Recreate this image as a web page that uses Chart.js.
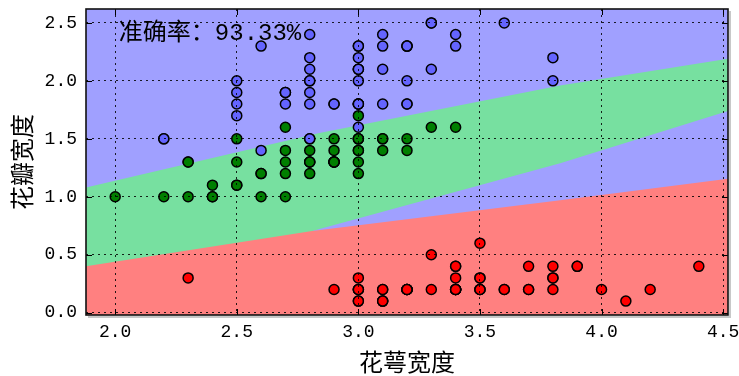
<!DOCTYPE html>
<html>
<head>
<meta charset="utf-8">
<script src="https://cdn.jsdelivr.net/npm/chart.js@4.4.1/dist/chart.umd.min.js"></script>
<style>
  html, body { margin: 0; padding: 0; background: #fff; }
</style>
</head>
<body>
<canvas id="myChart" width="739" height="376"></canvas>
<script>
// 鸢尾花数据: 花萼宽度 (x) / 花瓣宽度 (y)
const setosaX = [3.5,3.0,3.2,3.1,3.6,3.9,3.4,3.4,2.9,3.1,3.7,3.4,3.0,3.0,4.0,4.4,3.9,3.5,3.8,3.8,3.4,3.7,3.6,3.3,3.4,3.0,3.4,3.5,3.4,3.2,3.1,3.4,4.1,4.2,3.1,3.2,3.5,3.1,3.0,3.4,3.5,2.3,3.2,3.5,3.8,3.0,3.8,3.2,3.7,3.3];
const setosaY = [0.2,0.2,0.2,0.2,0.2,0.4,0.3,0.2,0.2,0.1,0.2,0.2,0.1,0.1,0.2,0.4,0.4,0.3,0.3,0.3,0.2,0.4,0.2,0.5,0.2,0.2,0.4,0.2,0.2,0.2,0.2,0.4,0.1,0.2,0.1,0.2,0.2,0.1,0.2,0.2,0.3,0.3,0.2,0.6,0.4,0.3,0.2,0.2,0.2,0.2];
const versicolorX = [3.2,3.2,3.1,2.3,2.8,2.8,3.3,2.4,2.9,2.7,2.0,3.0,2.2,2.9,2.9,3.1,3.0,2.7,2.2,2.5,3.2,2.8,2.5,2.8,2.9,3.0,2.8,3.0,2.9,2.6,2.4,2.4,2.7,2.7,3.0,3.4,3.1,2.3,3.0,2.5,2.6,3.0,2.6,2.3,2.7,3.0,2.9,2.9,2.5,2.8];
const versicolorY = [1.4,1.5,1.5,1.3,1.5,1.3,1.6,1.0,1.3,1.4,1.0,1.5,1.0,1.4,1.3,1.4,1.5,1.0,1.5,1.1,1.8,1.3,1.5,1.2,1.3,1.4,1.4,1.7,1.5,1.0,1.1,1.0,1.2,1.6,1.5,1.6,1.5,1.3,1.3,1.3,1.2,1.4,1.2,1.0,1.3,1.2,1.3,1.3,1.1,1.3];
const virginicaX = [3.3,2.7,3.0,2.9,3.0,3.0,2.5,2.9,2.5,3.6,3.2,2.7,3.0,2.5,2.8,3.2,3.0,3.8,2.6,2.2,3.2,2.8,2.8,2.7,3.3,3.2,2.8,3.0,2.8,3.0,2.8,3.8,2.8,2.8,2.6,3.0,3.4,3.1,3.0,3.1,3.1,3.1,2.7,3.2,3.3,3.0,2.5,3.0,3.4,3.0];
const virginicaY = [2.5,1.9,2.1,1.8,2.2,2.1,1.7,1.8,1.8,2.5,2.0,1.9,2.1,2.0,2.4,2.3,1.8,2.2,2.3,1.5,2.3,2.0,2.0,1.8,2.1,1.8,1.8,1.8,2.1,1.6,1.9,2.0,2.2,1.5,1.4,2.3,2.4,1.8,1.8,2.1,2.4,2.3,1.9,2.3,2.5,2.3,1.9,2.0,2.3,1.8];

// 决策边界
const redEdgeX = [1.88, 2.81, 3.83, 4.52];
const redEdgeY = [0.40, 0.705, 0.97, 1.155];
const blueLowEdgeX = [2.81, 3.83, 4.52];
const blueLowEdgeY = [0.705, 1.29, 1.74];
const greenTopEdgeX = [1.88, 2.84, 3.83, 4.52];
const greenTopEdgeY = [1.08, 1.55, 1.96, 2.19];

const xTicks = [2.0, 2.5, 3.0, 3.5, 4.0, 4.5];
const yTicks = [0.0, 0.5, 1.0, 1.5, 2.0, 2.5];
const xMin = 1.88, xMax = 4.52;
const yMin = -0.02, yMax = 2.62;

const accText = '准确率：93.33%';
const accPos = [2.015, 2.41];

const lightBlue = '#A0A0FF';
const lightGreen = '#77E0A0';
const lightRed = '#FF8080';

function toPoints(xs, ys) {
    return xs.map((x, i) => ({ x: x, y: ys[i] }));
}

function regionSet(xs, ys, color, order) {
    return {
        type: 'line',
        data: toPoints(xs, ys),
        fill: 'start',
        backgroundColor: color,
        borderColor: 'transparent',
        borderWidth: 0,
        pointRadius: 0,
        tension: 0,
        order: order
    };
}

function pointSet(xs, ys, color, order) {
    return {
        data: toPoints(xs, ys),
        backgroundColor: color,
        borderColor: '#000',
        pointRadius: 5,
        pointBorderWidth: 1.5,
        order: order
    };
}

// 背景, 刻度, 边框和准确率文字
const framePlugin = {
    id: 'frame',
    beforeDatasetsDraw(chart) {
        const { ctx, chartArea: a } = chart;
        ctx.save();
        ctx.fillStyle = lightBlue;
        ctx.fillRect(a.left, a.top, a.right - a.left, a.bottom - a.top);
        ctx.restore();
    },
    afterDraw(chart) {
        const { ctx, chartArea: a, scales } = chart;
        ctx.save();
        ctx.fillStyle = '#000';
        ctx.font = '24px "Liberation Mono", "Noto Sans CJK SC"';
        ctx.textBaseline = 'middle';
        ctx.fillText(accText, scales.x.getPixelForValue(accPos[0]), scales.y.getPixelForValue(accPos[1]));

        ctx.strokeStyle = '#000';
        ctx.lineWidth = 1;
        ctx.beginPath();
        xTicks.forEach(v => {
            const px = Math.round(scales.x.getPixelForValue(v)) + 0.5;
            ctx.moveTo(px, a.bottom); ctx.lineTo(px, a.bottom - 6);
            ctx.moveTo(px, a.top); ctx.lineTo(px, a.top + 6);
        });
        yTicks.forEach(v => {
            const py = Math.round(scales.y.getPixelForValue(v)) + 0.5;
            ctx.moveTo(a.left, py); ctx.lineTo(a.left + 6, py);
            ctx.moveTo(a.right, py); ctx.lineTo(a.right - 6, py);
        });
        ctx.stroke();

        ctx.strokeStyle = '#c8c8c8';
        ctx.lineWidth = 2;
        ctx.beginPath();
        ctx.moveTo(a.right + 2, a.top + 2); ctx.lineTo(a.right + 2, a.bottom + 2); ctx.lineTo(a.left + 2, a.bottom + 2);
        ctx.stroke();

        ctx.strokeStyle = '#111';
        ctx.lineWidth = 1.6;
        ctx.strokeRect(a.left, a.top, a.right - a.left, a.bottom - a.top);
        ctx.restore();
    }
};

const tickFont = { family: '"Liberation Mono", "DejaVu Sans Mono", monospace', size: 18 };
const titleFont = { family: '"Noto Sans CJK SC", sans-serif', size: 24 };

const ctx = document.getElementById('myChart').getContext('2d');
const myChart = new Chart(ctx, {
    type: 'scatter',
    data: {
        datasets: [
            pointSet(virginicaX, virginicaY, '#6464FF', 1),
            pointSet(versicolorX, versicolorY, '#007F00', 2),
            pointSet(setosaX, setosaY, '#FF0000', 3),
            regionSet(redEdgeX, redEdgeY, lightRed, 4),
            regionSet(blueLowEdgeX, blueLowEdgeY, lightBlue, 5),
            regionSet(greenTopEdgeX, greenTopEdgeY, lightGreen, 6)
        ]
    },
    options: {
        responsive: false,
        animation: false,
        layout: { padding: { top: 9, right: 11, left: 0, bottom: 0 } },
        plugins: {
            legend: { display: false },
            tooltip: { enabled: false }
        },
        scales: {
            x: {
                type: 'linear',
                min: xMin,
                max: xMax,
                afterBuildTicks: s => { s.ticks = xTicks.map(v => ({ value: v })); },
                afterFit: s => {
                    s.height = 61;
                    s.paddingLeft = 0; s.paddingRight = 0;
                },
                ticks: {
                    callback: v => v.toFixed(1),
                    font: tickFont,
                    color: '#000',
                    padding: 6,
                    maxRotation: 0,
                    autoSkip: false
                },
                grid: { color: 'rgba(0,0,0,0.85)', lineWidth: 1, drawTicks: false, z: 1 },
                border: { display: false, dash: [2, 4] },
                title: {
                    display: true,
                    text: '花萼宽度',
                    font: titleFont,
                    color: '#000',
                    padding: { top: 0, bottom: 0 }
                }
            },
            y: {
                type: 'linear',
                min: yMin,
                max: yMax,
                afterBuildTicks: s => { s.ticks = yTicks.map(v => ({ value: v })); },
                afterFit: s => {
                    s.width = 86;
                    s.paddingTop = 0; s.paddingBottom = 0;
                },
                ticks: {
                    callback: v => v.toFixed(1),
                    font: tickFont,
                    color: '#000',
                    padding: 9,
                    autoSkip: false
                },
                grid: { color: 'rgba(0,0,0,0.85)', lineWidth: 1, drawTicks: false, z: 1 },
                border: { display: false, dash: [2, 4] },
                title: {
                    display: true,
                    text: '花瓣宽度',
                    font: titleFont,
                    color: '#000',
                    padding: { top: 7, bottom: 0 }
                }
            }
        }
    },
    plugins: [framePlugin]
});
</script>
</body>
</html>
